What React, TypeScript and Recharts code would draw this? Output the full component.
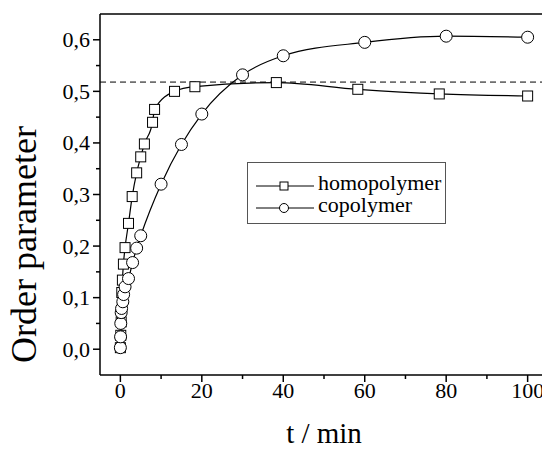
import React from 'react'
import { ComposedChart, Line, XAxis, YAxis, ReferenceLine, Legend } from 'recharts'

// time in minutes and order parameter
const homoTime = [0, 0.1, 0.2, 0.35, 0.5, 0.75, 1.15, 2, 2.9, 4, 5, 5.9, 7.9, 8.4, 13.3, 18.3, 38.3, 58.3, 78.3, 100]
const homoOrder = [0.003, 0.027, 0.053, 0.11, 0.134, 0.165, 0.197, 0.244, 0.296, 0.342, 0.373, 0.398, 0.44, 0.465, 0.5, 0.509, 0.517, 0.504, 0.495, 0.491]

const coTime = [0, 0.05, 0.1, 0.2, 0.3, 0.6, 0.8, 1.15, 2, 3, 4, 5, 10, 15, 20, 30, 40, 60, 80, 100]
const coOrder = [0.003, 0.024, 0.05, 0.071, 0.079, 0.092, 0.106, 0.121, 0.137, 0.168, 0.196, 0.22, 0.32, 0.397, 0.456, 0.532, 0.569, 0.595, 0.607, 0.605]

const plateau = 0.518

const xTicks = [0, 10, 20, 30, 40, 50, 60, 70, 80, 90, 100]
const yTicks = [0, 0.05, 0.1, 0.15, 0.2, 0.25, 0.3, 0.35, 0.4, 0.45, 0.5, 0.55, 0.6]

const homoData = homoTime.map((t, i) => ({ t, v: homoOrder[i] }))
const coData = coTime.map((t, i) => ({ t, v: coOrder[i] }))

const FONT = '"Liberation Serif", "Times New Roman", serif'
const AXIS = { stroke: '#000', strokeWidth: 1.5 }

const isMajorX = (v: number) => Math.round(v) % 20 === 0
const isMajorY = (v: number) => Math.round(v * 100) % 10 === 0

const BottomTick = (props: any) => {
  const { x, y, payload } = props
  const major = isMajorX(payload.value)
  return (
    <g>
      <line x1={x} y1={y} x2={x} y2={y + (major ? 7 : 4)} stroke="#000" strokeWidth={1.5} />
      {major && (
        <text x={x} y={y + 23} textAnchor="middle" fontSize={22} fontFamily={FONT} fill="#000">
          {payload.value}
        </text>
      )}
    </g>
  )
}

const TopTick = (props: any) => {
  const { x, y, payload } = props
  const major = isMajorX(payload.value)
  return <line x1={x} y1={y} x2={x} y2={y + (major ? 8 : 4)} stroke="#000" strokeWidth={1.5} />
}

const LeftTick = (props: any) => {
  const { x, y, payload } = props
  const major = isMajorY(payload.value)
  return (
    <g>
      <line x1={x - (major ? 7 : 4)} y1={y} x2={x} y2={y} stroke="#000" strokeWidth={1.5} />
      {major && (
        <text x={x - 10} y={y} dy="0.34em" textAnchor="end" fontSize={22} fontFamily={FONT} fill="#000">
          {payload.value.toFixed(1).replace('.', ',')}
        </text>
      )}
    </g>
  )
}

const RightTick = (props: any) => {
  const { x, y, payload } = props
  const major = isMajorY(payload.value)
  return <line x1={x - (major ? 8 : 4)} y1={y} x2={x} y2={y} stroke="#000" strokeWidth={1.5} />
}

const YTitle = (props: any) => {
  const { viewBox } = props
  const cx = viewBox.x + 23
  const cy = viewBox.y + viewBox.height / 2 + 50
  return (
    <text x={cx} y={cy} transform={`rotate(-90 ${cx} ${cy})`} textAnchor="middle" dy="0.35em" fontSize={36} fontFamily={FONT} fill="#000">
      Order parameter
    </text>
  )
}

const XTitle = (props: any) => {
  const { viewBox } = props
  return (
    <text x={viewBox.x + viewBox.width / 2} y={viewBox.y + 68} textAnchor="middle" fontSize={29} fontFamily={FONT} fill="#000">
      t / min
    </text>
  )
}

const square = (p: any) => (
  <rect key={`sq-${p.index}`} x={p.cx - 5} y={p.cy - 5} width={10} height={10} fill="#fff" stroke="#000" strokeWidth={1} />
)

const LegendBox = () => (
  <div
    style={{
      position: 'relative',
      width: 199,
      height: 62,
      boxSizing: 'border-box',
      border: '1px solid #555',
      background: '#fff',
      fontFamily: FONT,
      fontSize: 22,
      color: '#000',
    }}
  >
    <svg width={70} height={60} style={{ position: 'absolute', left: 0, top: 0 }}>
      <line x1={8} y1={23} x2={66} y2={23} stroke="#000" strokeWidth={1} />
      <rect x={32} y={19} width={8} height={8} fill="#fff" stroke="#000" strokeWidth={1} />
      <line x1={8} y1={45} x2={66} y2={45} stroke="#000" strokeWidth={1} />
      <circle cx={36} cy={45} r={4.5} fill="#fff" stroke="#000" strokeWidth={1} />
    </svg>
    <div style={{ position: 'absolute', left: 70, top: 10, lineHeight: '19px' }}>homopolymer</div>
    <div style={{ position: 'absolute', left: 70, top: 32, lineHeight: '19px' }}>copolymer</div>
  </div>
)

export default function App() {
  return (
    <div style={{ position: 'fixed', left: 0, top: 0, width: 542, height: 450, overflow: 'hidden', background: '#fff' }}>
      <ComposedChart width={560} height={450} margin={{ top: 0, right: 0, bottom: 0, left: 0 }}>
        <XAxis
          xAxisId={0}
          type="number"
          dataKey="t"
          domain={[-5, 105]}
          ticks={xTicks}
          interval={0}
          height={75}
          axisLine={AXIS}
          tickLine={false}
          tickSize={0}
          tickMargin={0}
          tick={BottomTick}
          label={<XTitle />}
        />
        <XAxis
          xAxisId="top"
          orientation="top"
          type="number"
          domain={[-5, 105]}
          ticks={xTicks}
          interval={0}
          height={14}
          axisLine={AXIS}
          tickLine={false}
          tickSize={0}
          tickMargin={0}
          tick={TopTick}
        />
        <YAxis
          yAxisId={0}
          type="number"
          domain={[-0.05, 0.65]}
          ticks={yTicks}
          interval={0}
          width={100}
          axisLine={AXIS}
          tickLine={false}
          tickSize={0}
          tickMargin={0}
          tick={LeftTick}
          label={<YTitle />}
        />
        <YAxis
          yAxisId="right"
          orientation="right"
          type="number"
          domain={[-0.05, 0.65]}
          ticks={yTicks}
          interval={0}
          width={12}
          axisLine={AXIS}
          tickLine={false}
          tickSize={0}
          tickMargin={0}
          tick={RightTick}
        />
        <ReferenceLine y={plateau} stroke="#000" strokeWidth={1} strokeDasharray="6 4" />
        <Line
          data={homoData}
          dataKey="v"
          type="monotone"
          stroke="#000"
          strokeWidth={1.2}
          dot={square}
          activeDot={false}
          isAnimationActive={false}
        />
        <Line
          data={coData}
          dataKey="v"
          type="monotone"
          stroke="#000"
          strokeWidth={1.2}
          dot={{ r: 6, fill: '#fff', stroke: '#000', strokeWidth: 1 }}
          activeDot={false}
          isAnimationActive={false}
        />
        <Legend
          layout="horizontal"
          verticalAlign="middle"
          align="center"
          content={<LegendBox />}
          wrapperStyle={{ left: 247, top: 162, width: 199, height: 62 }}
        />
      </ComposedChart>
    </div>
  )
}
